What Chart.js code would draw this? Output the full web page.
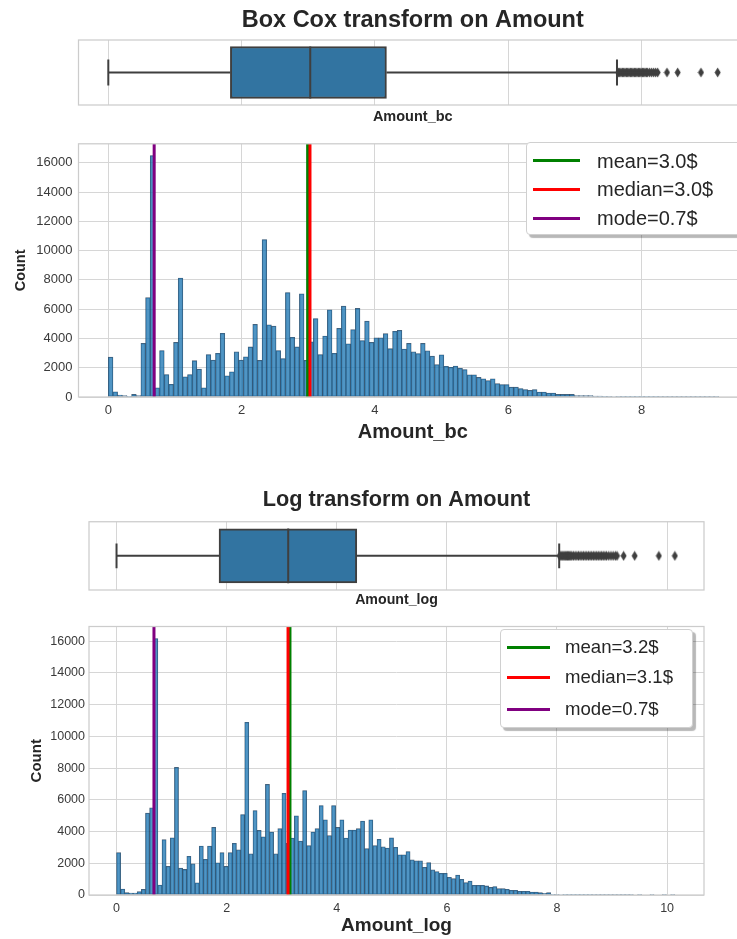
<!DOCTYPE html>
<html>
<head>
<meta charset="utf-8">
<script src="https://cdn.jsdelivr.net/npm/chart.js@4.4.1/dist/chart.umd.min.js"></script>
<style>
  html, body { margin: 0; padding: 0; background: #fff; overflow: hidden; }
  #page { position: relative; width: 737px; height: 939px; overflow: hidden; font-family: 'Liberation Sans', Arial, sans-serif; }
  #page canvas { position: absolute; left: 0; }
  .legend { position: absolute; box-sizing: border-box; background: #fff; border: 1px solid #d0d0d0; border-radius: 4px; box-shadow: 3px 3px 1px rgba(0,0,0,0.28); color: #262626; }
  .legend .swatch { position: absolute; height: 3px; }
  .legend .label { position: absolute; white-space: nowrap; line-height: 1; }
</style>
</head>
<body>
<div id="page">
  <canvas id="boxBc" width="827" height="130" style="top:0px"></canvas>
  <canvas id="histBc" width="827" height="320" style="top:130px"></canvas>
  <canvas id="boxLog" width="793" height="135" style="top:480px"></canvas>
  <canvas id="histLog" width="793" height="325" style="top:615px"></canvas>
</div>
<script>
// Box Cox histogram: counts per bin, bins start at 0
const bcBinWidth = 0.0699;
const bcCounts = [
  2720, 360, 130, 100, 20, 180, 100, 3660, 6790, 16500,
  630, 3170, 1540, 870, 3730, 8130, 1380, 1540, 2480, 1900,
  630, 2900, 2520, 2990, 4350, 1450, 1720, 3080, 2520, 2750,
  3420, 4960, 2500, 10760, 4930, 4840, 3170, 2630, 7140, 4080,
  3420, 7050, 2500, 3770, 5360, 2900, 4170, 5960, 2990, 4690,
  6210, 3640, 4600, 6050, 3860, 5180, 3730, 4040, 4040, 4330,
  3300, 4490, 4550, 3280, 3660, 3080, 2970, 3660, 3150, 2790,
  2210, 2880, 2100, 2030, 2120, 1960, 1875, 1520, 1520, 1340,
  1250, 1120, 1250, 915, 850, 850, 670, 670, 580, 510,
  450, 510, 335, 335, 270, 270, 180, 180, 180, 180,
  90, 90, 90, 90,
  70, 60, 50, 40, 35, 30, 25, 20, 18, 15, 12, 10, 9, 8, 6, 5, 4, 4, 3, 3, 2, 2, 1, 1, 1, 1, 1
];
const bcStats = [2.99, 3.025, 0.688];           // mean, median, mode
const bcStatLabels = ['mean=3.0$', 'median=3.0$', 'mode=0.7$'];
const bcBox = [0, 1.831, 3.029, 4.172, 7.63];    // low whisker, q1, median, q3, high whisker
const bcOutliers = [7.65, 7.67, 7.69, 7.71, 7.73, 7.75, 7.77, 7.79, 7.81, 7.83, 7.85, 7.87, 7.89, 7.91,
  7.93, 7.95, 7.97, 7.99, 8.01, 8.03, 8.05, 8.07, 8.09, 8.12, 8.15, 8.18, 8.21, 8.24, 8.38, 8.54, 8.89, 9.14];
const bcXRange = [-0.447, 9.58];
const bcXTicks = [0, 2, 4, 6, 8];
const bcYMax = 17300;

// Log histogram
const logBinWidth = 0.0751;
const logCounts = [
  2670, 375, 146, 125, 125, 210, 355, 5160, 5490, 16160,
  630, 3490, 1800, 3610, 8040, 1690, 1610, 2440, 1960, 770,
  3090, 2250, 3090, 4260, 2030, 2670, 1800, 2670, 3260, 2840,
  5070, 10880, 2590, 5320, 4070, 3670, 6970, 3970, 2590, 4180,
  6410, 3260, 3590, 4990, 3400, 6580, 3110, 3970, 4180, 5640,
  4740, 3740, 5640, 4260, 4740, 3590, 4090, 4090, 4180, 4660,
  2920, 4740, 3110, 3510, 3030, 2960, 3610, 3010, 2530, 2530,
  2740, 2210, 2150, 2150, 1750, 2040, 1580, 1470, 1370, 1370,
  1120, 1030, 1260, 990, 780, 880, 610, 610, 610, 570,
  480, 530, 400, 400, 360, 295, 295, 230, 230, 230,
  190, 190, 150, 105, 150,
  45, 35, 30, 25, 20, 15, 12, 10, 8, 6, 5, 4, 3, 3, 2, 2, 1, 1, 1, 1, 0, 1, 0, 0, 1, 0, 0, 1, 0, 1
];
const logStats = [3.15, 3.115, 0.68];
const logStatLabels = ['mean=3.2$', 'median=3.1$', 'mode=0.7$'];
const logBox = [0, 1.862, 3.118, 4.364, 8.04];
const logOutliers = [8.05, 8.07, 8.09, 8.11, 8.13, 8.15, 8.17, 8.19, 8.21, 8.23, 8.25, 8.27, 8.30, 8.33,
  8.36, 8.39, 8.42, 8.45, 8.48, 8.51, 8.54, 8.57, 8.60, 8.63, 8.66, 8.69, 8.72, 8.75, 8.78, 8.81,
  8.84, 8.87, 8.90, 8.94, 8.98, 9.02, 9.06, 9.09, 9.21, 9.41, 9.85, 10.14];
const logXRange = [-0.50, 10.67];
const logXTicks = [0, 2, 4, 6, 8, 10];
const logYMax = 16920;

const countTicks = [0, 2000, 4000, 6000, 8000, 10000, 12000, 14000, 16000];

const FONT = "'Liberation Sans', Arial, sans-serif";
const TEXT = '#262626';
const TICK = '#3a3a3a';
const GRID = '#d6d6d6';
const EDGE = '#3f3f3f';
const statColors = ['#008000', '#ff0000', '#800080'];

// spines all round, like seaborn whitegrid
const framePlugin = {
  id: 'frame',
  afterDatasetsDraw(chart) {
    const { ctx, chartArea: a } = chart;
    ctx.save();
    ctx.strokeStyle = '#cccccc';
    ctx.lineWidth = 1.25;
    ctx.strokeRect(a.left, a.top, a.right - a.left, a.bottom - a.top);
    ctx.restore();
  }
};

// thin diamond flier marker
const diamond = document.createElement('canvas');
diamond.width = 7;
diamond.height = 11;
const dctx = diamond.getContext('2d');
dctx.fillStyle = EDGE;
dctx.beginPath();
dctx.moveTo(3.5, 0.5); dctx.lineTo(6.5, 5.5); dctx.lineTo(3.5, 10.5); dctx.lineTo(0.5, 5.5);
dctx.closePath();
dctx.fill();

const useTicks = values => scale => { scale.ticks = values.map(v => ({ value: v })); };

function drawHist(id, counts, binWidth, xRange, xTicks, yMax, stats, g) {
  const bars = counts.map((c, i) => ({ x: (i + 0.5) * binWidth, y: c }));
  const statSets = stats.map((v, i) => ({
    type: 'line',
    data: [{ x: v, y: 0 }, { x: v, y: yMax }],
    borderColor: statColors[i],
    borderWidth: 3,
    pointRadius: 0,
    order: 3 - i
  }));

  new Chart(document.getElementById(id), {
    type: 'bar',
    data: {
      datasets: [{
        data: bars,
        backgroundColor: 'rgba(31,119,180,0.78)',
        borderColor: 'rgba(30,55,80,0.8)',
        borderWidth: 0.6,
        borderSkipped: false,
        barPercentage: 1,
        categoryPercentage: 1,
        order: 4
      }, ...statSets]
    },
    options: {
      responsive: false,
      animation: false,
      layout: { padding: { top: g.padTop, right: g.padRight, left: 0, bottom: 0 } },
      plugins: { legend: { display: false }, tooltip: { enabled: false } },
      scales: {
        x: {
          type: 'linear', min: xRange[0], max: xRange[1], offset: false,
          afterBuildTicks: useTicks(xTicks),
          grid: { color: GRID, drawTicks: false, offset: false },
          border: { display: false },
          ticks: { padding: g.xTickPad, color: TICK, autoSkip: false,
                   font: { family: FONT, size: g.tickSize }, callback: v => String(v) },
          title: { display: true, text: g.xTitle, color: TEXT,
                   font: { family: FONT, size: g.xTitleSize, weight: 'bold' },
                   padding: { top: 0, bottom: g.xTitlePad } },
          afterFit: s => { s.height = g.xAxisHeight; }
        },
        y: {
          type: 'linear', min: 0, max: yMax,
          afterBuildTicks: useTicks(countTicks),
          grid: { color: GRID, drawTicks: false },
          border: { display: false },
          ticks: { padding: g.yTickPad, color: TICK, autoSkip: false,
                   font: { family: FONT, size: g.tickSize }, callback: v => String(v) },
          title: { display: true, text: 'Count', color: TEXT,
                   font: { family: FONT, size: g.yTitleSize, weight: 'bold' },
                   padding: { top: g.yTitlePad, bottom: 0 } },
          afterFit: s => { s.width = g.yAxisWidth; }
        }
      }
    },
    plugins: [framePlugin]
  });
}

function drawBox(id, box, outliers, xRange, xTicks, g) {
  const [lo, q1, med, q3, hi] = box;
  const seg = pts => ({ type: 'line', data: pts, borderColor: EDGE, borderWidth: 2, pointRadius: 0, order: 1 });

  new Chart(document.getElementById(id), {
    type: 'bar',
    data: {
      datasets: [
        { type: 'bar', indexAxis: 'y', data: [{ x: [q1, q3], y: 0 }], backgroundColor: '#3274a1',
          borderColor: EDGE, borderWidth: 2, borderSkipped: false, barThickness: g.boxThickness, order: 5 },
        seg([{ x: med, y: -0.4 }, { x: med, y: 0.4 }]),
        seg([{ x: lo, y: 0 }, { x: q1, y: 0 }]),
        seg([{ x: q3, y: 0 }, { x: hi, y: 0 }]),
        seg([{ x: lo, y: -g.cap }, { x: lo, y: g.cap }]),
        seg([{ x: hi, y: -g.cap }, { x: hi, y: g.cap }]),
        { type: 'scatter', data: outliers.map(v => ({ x: v, y: 0 })), pointStyle: diamond, pointRadius: 4, order: 2 }
      ]
    },
    options: {
      responsive: false,
      animation: false,
      layout: { padding: { top: 0, left: g.padLeft, right: g.padRight, bottom: 0 } },
      plugins: {
        legend: { display: false },
        tooltip: { enabled: false },
        title: { display: true, text: g.title, color: TEXT,
                 font: { family: FONT, size: g.titleSize, weight: 'bold' },
                 padding: { top: g.titlePadTop, bottom: g.titlePadBottom } }
      },
      scales: {
        x: {
          type: 'linear', min: xRange[0], max: xRange[1], offset: false,
          afterBuildTicks: useTicks(xTicks),
          grid: { color: GRID, drawTicks: false, offset: false },
          border: { display: false },
          ticks: { display: false },
          title: { display: true, text: g.xTitle, color: TEXT,
                   font: { family: FONT, size: g.xTitleSize, weight: 'bold' },
                   padding: { top: 0, bottom: g.xTitlePad } },
          afterFit: s => { s.height = g.xAxisHeight; }
        },
        y: { type: 'linear', min: -0.5, max: 0.5, display: false, offset: false }
      }
    },
    plugins: [framePlugin]
  });
}

function addLegend(labels, g) {
  const box = document.createElement('div');
  box.className = 'legend';
  Object.assign(box.style, { left: g.left + 'px', top: g.top + 'px', width: g.width + 'px', height: g.height + 'px' });
  labels.forEach((text, i) => {
    const sw = document.createElement('div');
    sw.className = 'swatch';
    Object.assign(sw.style, { left: g.lineX0 + 'px', width: (g.lineX1 - g.lineX0) + 'px',
      top: (g.rows[i] - 2.5) + 'px', background: statColors[i] });
    const lb = document.createElement('div');
    lb.className = 'label';
    lb.textContent = text;
    Object.assign(lb.style, { left: g.textX + 'px', top: (g.rows[i] - 1 - g.fontSize / 2) + 'px', fontSize: g.fontSize + 'px' });
    box.appendChild(sw);
    box.appendChild(lb);
  });
  document.getElementById('page').appendChild(box);
}

drawBox('boxBc', bcBox, bcOutliers, bcXRange, bcXTicks, {
  title: 'Box Cox transform on Amount', titleSize: 23.5, titlePadTop: 6, titlePadBottom: 5.8,
  padLeft: 78.5, padRight: 80, xTitle: 'Amount_bc', xTitleSize: 14.5, xTitlePad: 4.3,
  xAxisHeight: 25, boxThickness: 52, cap: 0.2
});
drawHist('histBc', bcCounts, bcBinWidth, bcXRange, bcXTicks, bcYMax, bcStats, {
  padTop: 9, padRight: 80, yAxisWidth: 78.5, xAxisHeight: 53, tickSize: 13,
  xTickPad: 6, yTickPad: 6, xTitle: 'Amount_bc', xTitleSize: 20, xTitlePad: 6,
  yTitleSize: 14.5, yTitlePad: 12
});
drawBox('boxLog', logBox, logOutliers, logXRange, logXTicks, {
  title: 'Log transform on Amount', titleSize: 21.7, titlePadTop: 7.5, titlePadBottom: 8.2,
  padLeft: 89, padRight: 89, xTitle: 'Amount_log', xTitleSize: 14.2, xTitlePad: 6.5,
  xAxisHeight: 25, boxThickness: 54, cap: 0.18
});
drawHist('histLog', logCounts, logBinWidth, logXRange, logXTicks, logYMax, logStats, {
  padTop: 10, padRight: 89, yAxisWidth: 89, xAxisHeight: 45, tickSize: 12.5,
  xTickPad: 6, yTickPad: 4, xTitle: 'Amount_log', xTitleSize: 19, xTitlePad: 2.6,
  yTitleSize: 15, yTitlePad: 28
});

addLegend(bcStatLabels, { left: 525.7, top: 142.3, width: 215, height: 93, rows: [18.4, 47, 76],
  lineX0: 6.3, lineX1: 53.3, textX: 70.3, fontSize: 20 });
addLegend(logStatLabels, { left: 500, top: 629, width: 193.3, height: 99, rows: [18.3, 48.7, 80],
  lineX0: 6, lineX1: 49, textX: 64, fontSize: 18.6 });
</script>
</body>
</html>
